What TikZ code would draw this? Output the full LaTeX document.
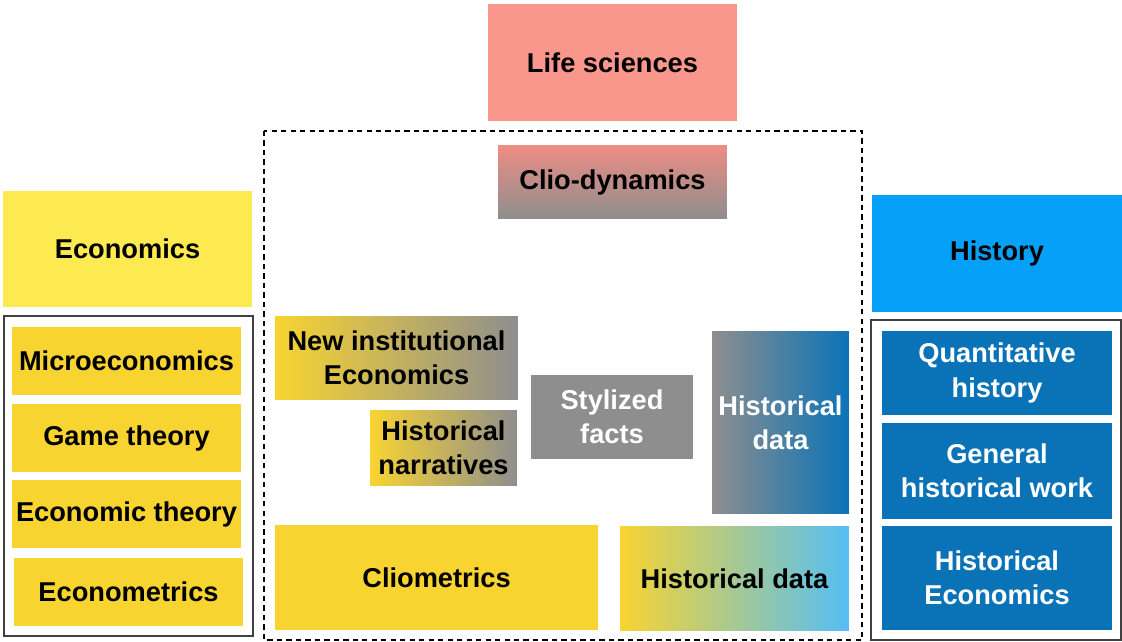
\documentclass[tikz,border=0pt]{standalone}
\usepackage{fontspec}
\setmainfont{Liberation Sans}
\usepackage{xcolor}
\usepackage{tikz}

\definecolor{lifepink}{HTML}{FA978C}
\definecolor{econyellow}{HTML}{FCEA50}
\definecolor{subyellow}{HTML}{F8D431}
\definecolor{histblue}{HTML}{05A0F8}
\definecolor{subblue}{HTML}{0A73B8}
\definecolor{factgray}{HTML}{8E8E8E}
\definecolor{lightblue}{HTML}{55BEF5}
\definecolor{clipink}{HTML}{EE8D84}

\tikzset{
  field/.style={rectangle, inner sep=0pt, align=center, font=\fontsize{15.5}{19.5}\selectfont\bfseries},
  groupbox/.style={draw=black!75, line width=0.6pt},
}

\begin{document}
\begin{tikzpicture}[x=0.02cm, y=-0.02cm]
\useasboundingbox (0,0) rectangle (1122,642);

% frames
\draw[line width=1.5pt, dash pattern=on 3pt off 2.4pt] (264,131) rectangle (862,640);
\draw[groupbox] (4,316) rectangle (253,636);
\draw[groupbox] (871,320) rectangle (1121,640);

% disciplines
\node[field, fill=lifepink, minimum width=4.98cm, minimum height=2.34cm] (life) at (612.5,62.5) {Life sciences};
\node[field, fill=econyellow, minimum width=4.98cm, minimum height=2.32cm] (econ) at (127.5,249) {Economics};
\node[field, fill=histblue, minimum width=5cm, minimum height=2.34cm] (hist) at (997,253.5) {History};

% economics
\node[field, fill=subyellow, minimum width=4.58cm, minimum height=1.36cm] (micro) at (126.5,361) {Microeconomics};
\node[field, fill=subyellow, minimum width=4.58cm, minimum height=1.36cm] (game) at (126.5,438) {Game theory};
\node[field, fill=subyellow, minimum width=4.58cm, minimum height=1.36cm] (theory) at (126.5,514) {Economic theory};
\node[field, fill=subyellow, minimum width=4.58cm, minimum height=1.36cm] (metrics) at (128.5,592) {Econometrics};

% history
\node[field, fill=subblue, text=white, minimum width=4.6cm, minimum height=1.68cm] (quant) at (997,373) {Quantitative\\history};
\node[field, fill=subblue, text=white, minimum width=4.6cm, minimum height=1.92cm] (general) at (997,471) {General\\historical work};
\node[field, fill=subblue, text=white, minimum width=4.6cm, minimum height=2.08cm] (histecon) at (997,578) {Historical\\Economics};

% in between
\node[field, top color=clipink, bottom color=factgray, minimum width=4.58cm, minimum height=1.48cm] (clio) at (612.5,182) {Clio-dynamics};
\node[field, left color=subyellow, right color=factgray, minimum width=4.86cm, minimum height=1.68cm] (newinst) at (396.5,358) {New institutional\\Economics};
\node[field, left color=subyellow, right color=factgray, minimum width=2.94cm, minimum height=1.52cm] (narr) at (443.5,448) {Historical\\narratives};
\node[field, fill=factgray, text=white, minimum width=3.24cm, minimum height=1.68cm] (styl) at (612,417) {Stylized\\facts};
\node[field, left color=factgray, right color=subblue, text=white, minimum width=2.74cm, minimum height=3.66cm] (data) at (780.5,422.5) {Historical\\data};
\node[field, fill=subyellow, minimum width=6.46cm, minimum height=2.1cm] (clio-metrics) at (436.5,577.5) {Cliometrics};
\node[field, left color=subyellow, right color=lightblue, minimum width=4.58cm, minimum height=2.1cm] (data2) at (734.5,578.5) {Historical data};
\end{tikzpicture}
\end{document}
